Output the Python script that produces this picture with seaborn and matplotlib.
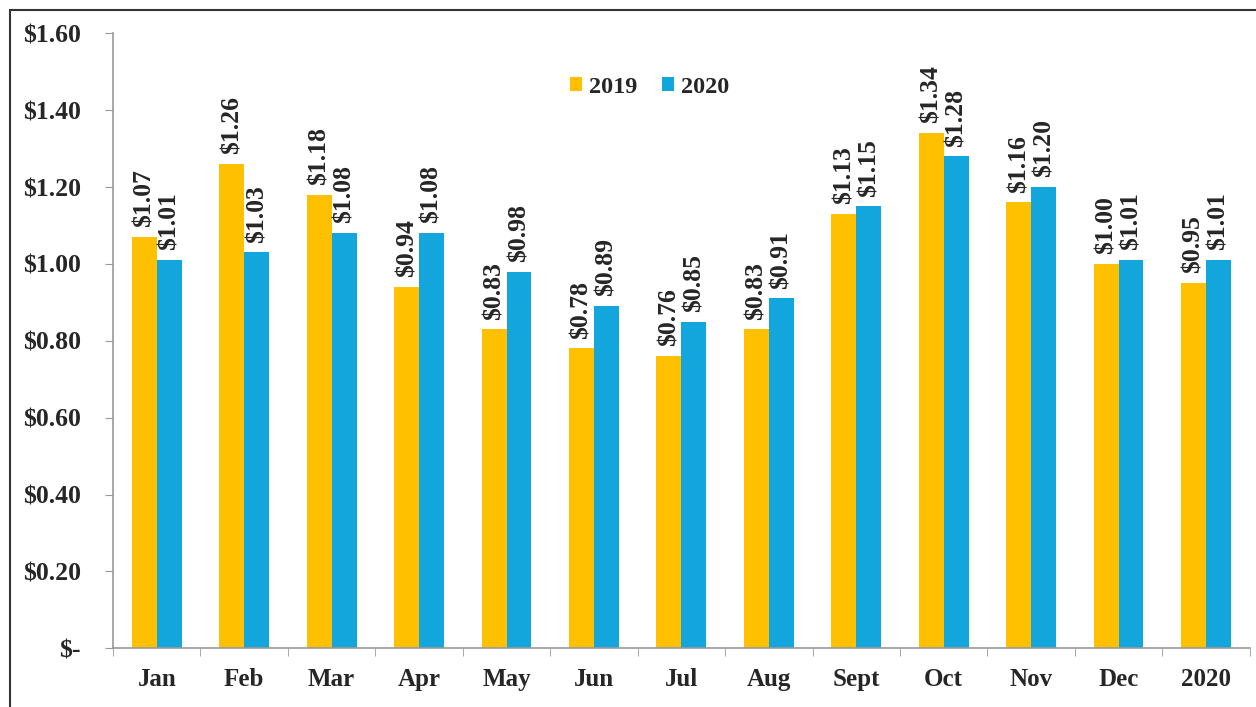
import matplotlib
matplotlib.use('Agg')
import matplotlib.pyplot as plt
import matplotlib.ticker as mticker
from matplotlib.patches import Rectangle
import pandas as pd
import seaborn as sns

#%% DATA
months = ['Jan', 'Feb', 'Mar', 'Apr', 'May', 'Jun', 'Jul', 'Aug',
          'Sept', 'Oct', 'Nov', 'Dec', '2020']
vals_2019 = [1.07, 1.26, 1.18, 0.94, 0.83, 0.78, 0.76, 0.83, 1.13, 1.34, 1.16, 1.00, 0.95]
vals_2020 = [1.01, 1.03, 1.08, 1.08, 0.98, 0.89, 0.85, 0.91, 1.15, 1.28, 1.20, 1.01, 1.01]
years = ['2019', '2020']

df = pd.DataFrame({
    'Month': months * 2,
    'Year': ['2019'] * len(months) + ['2020'] * len(months),
    'Value': vals_2019 + vals_2020,
})

#%% CONFIGS
sns.set_style('white')
plt.rcParams['font.family'] = ['Liberation Serif', 'DejaVu Serif']
plt.rcParams['font.weight'] = 'bold'

palette = {'2019': '#FFC000', '2020': '#12A6DC'}

fig = plt.figure(figsize=(12.56, 7.07), dpi=100)
ax = fig.add_axes([0.09, 0.083, 0.905, 0.87])

sns.barplot(data=df, x='Month', y='Value', hue='Year', hue_order=years,
            order=months, palette=palette, width=0.57, saturation=1,
            linewidth=0, ax=ax, legend=True)

for cont in ax.containers:
    ax.bar_label(cont, labels=[f'${v:.2f}' for v in cont.datavalues],
                 rotation=90, padding=7, fontsize=18.5, fontweight='bold')

ax.set_ylim(0, 1.6)
ax.set_yticks([i * 0.2 for i in range(9)])
ax.yaxis.set_major_formatter(mticker.FuncFormatter(
    lambda v, p: '$-' if abs(v) < 1e-9 else f'${v:.2f}'))
ax.set_xlim(-0.5, len(months) - 0.5)
ax.set_xticks([i - 0.5 for i in range(len(months) + 1)], minor=True)
ax.tick_params(axis='x', which='major', length=0, pad=14, labelsize=18)
ax.tick_params(axis='x', which='minor', length=6, color='#999999', direction='out', bottom=True)
ax.tick_params(axis='y', length=6, color='#999999', direction='out', left=True, pad=17, labelsize=18.5)
ax.set_xlabel('')
ax.set_ylabel('')
for s in ['top', 'right']:
    ax.spines[s].set_visible(False)
for s in ['left', 'bottom']:
    ax.spines[s].set_color('#999999')
    ax.spines[s].set_linewidth(1.2)

leg = ax.legend(loc='upper center', bbox_to_anchor=(0.472, 0.965), ncol=2, frameon=False,
                fontsize=17.5, handlelength=0.5, handleheight=0.5, handletextpad=0.3,
                columnspacing=1.0)
for t in leg.get_texts():
    t.set_fontweight('bold')

# frame around the figure
fig.patches.append(Rectangle((0.008, -0.1), 1.5, 1.086, transform=fig.transFigure,
                             fill=False, edgecolor='#333333', linewidth=1.5, clip_on=False))

plt.savefig('out.png', dpi=100)
